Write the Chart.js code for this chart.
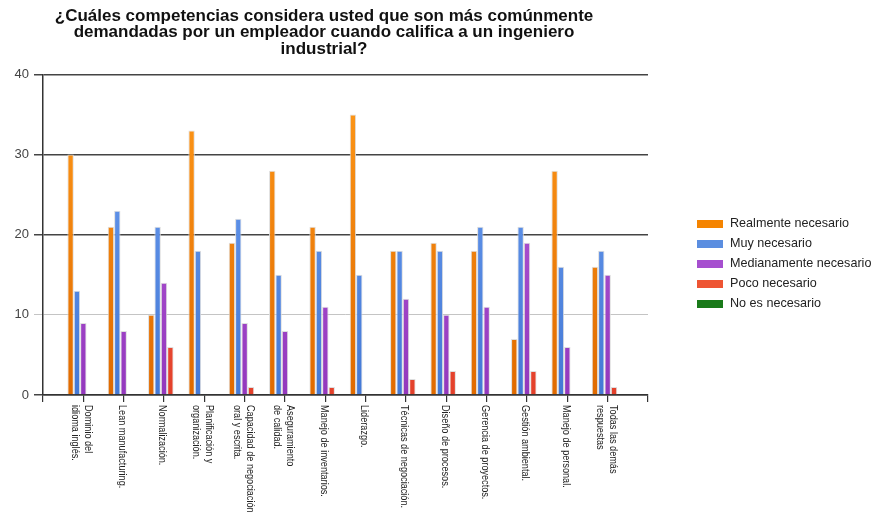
<!DOCTYPE html>
<html>
<head>
<meta charset="utf-8">
<script src="https://cdn.jsdelivr.net/npm/chart.js@4"></script>
<style>
  html, body { margin: 0; padding: 0; background: #fff; }
  #wrap { width: 880px; height: 523px; }
</style>
</head>
<body>
<div id="wrap"><canvas id="chart" width="880" height="523"></canvas></div>
<script>
// categories, one entry per line of the label
const categories = [
    ["Dominio del", "idioma inglés."],
    ["Lean manufacturing."],
    ["Normalización."],
    ["Planificación y", "organización."],
    ["Capacidad de negociación", "oral y escrita."],
    ["Aseguramiento", "de calidad."],
    ["Manejo de inventarios."],
    ["Liderazgo."],
    ["Técnicas de negociación."],
    ["Diseño de procesos."],
    ["Gerencia de proyectos."],
    ["Gestión ambiental."],
    ["Manejo de personal."],
    ["Todas las demás", "respuestas"]
]

const seriesNames = ["Realmente necesario", "Muy necesario", "Medianamente necesario", "Poco necesario", "No es necesario"]

const realmente = [30, 21, 10, 33, 19, 28, 21, 35, 18, 19, 18, 7, 28, 16]
const muy       = [13, 23, 21, 18, 22, 15, 18, 15, 18, 18, 21, 21, 16, 18]
const mediana   = [9, 8, 14, 0, 9, 8, 11, 0, 12, 10, 11, 19, 6, 15]
const poco      = [0, 0, 6, 0, 1, 0, 1, 0, 2, 3, 0, 3, 0, 1]
const noEs      = [0, 0, 0, 0, 0, 0, 0, 0, 0, 0, 0, 0, 0, 0]

const yTicks = [0, 10, 20, 30, 40]

const titleLines = [
    "¿Cuáles competencias considera usted que son más comúnmente",
    "demandadas por un empleador cuando califica a un ingeniero",
    "industrial?"
]

// legend colour, gradient top, gradient bottom
const palette = [
    ["#f58400", "#ff9a1a", "#e06a00"],
    ["#5b8ee0", "#6fa0f2", "#4479d6"],
    ["#a64fcf", "#bb62dc", "#9338bd"],
    ["#ee5533", "#f76d50", "#e3402a"],
    ["#1a7a1a", "#239023", "#136613"]
]

const allSeries = [realmente, muy, mediana, poco, noEs]

// one empty slot on each end, like the original axis
const labels = [""].concat(categories.map(c => c.join(" ")), [""])

function barFill(i) {
    return function (ctx) {
        const area = ctx.chart.chartArea
        if (!area) return palette[i][0]
        const g = ctx.chart.ctx.createLinearGradient(0, area.top, 0, area.bottom)
        g.addColorStop(0, palette[i][1])
        g.addColorStop(1, palette[i][2])
        return g
    }
}

const datasets = allSeries.map((values, i) => ({
    label: seriesNames[i],
    data: [null].concat(values, [null]),
    backgroundColor: barFill(i),
    borderColor: "#dedede",
    borderWidth: ctx => ctx.raw ? 1 : 0,
    borderSkipped: "bottom",
    categoryPercentage: 0.79,
    barPercentage: 1
}))

// category names drawn turned clockwise, reading downwards
const xLabelsPlugin = {
    id: "xLabels",
    afterDraw(chart) {
        const ctx = chart.ctx
        const xs = chart.scales.x
        const top = xs.top + 10
        ctx.save()
        ctx.fillStyle = "#222"
        ctx.font = '11px "Liberation Sans", Arial, sans-serif'
        ctx.textAlign = "left"
        ctx.textBaseline = "middle"
        categories.forEach((lines, k) => {
            const x = xs.getPixelForTick(k + 1) - 1.5
            ctx.save()
            ctx.translate(x, top)
            ctx.rotate(Math.PI / 2)
            // squeeze along the text, the original uses a narrow face
            ctx.scale(0.83, 1)
            lines.forEach((line, j) => {
                ctx.fillText(line, 0, (j - (lines.length - 1) / 2) * 13)
            })
            ctx.restore()
        })
        ctx.restore()
    }
}

const legendPlugin = {
    id: "sideLegend",
    afterDraw(chart) {
        const ctx = chart.ctx
        ctx.save()
        ctx.font = '12.6px "Liberation Sans", Arial, sans-serif'
        ctx.textBaseline = "middle"
        ctx.textAlign = "left"
        seriesNames.forEach((name, i) => {
            const y = 224 + i * 20
            ctx.fillStyle = palette[i][0]
            ctx.fillRect(697, y - 4, 26, 8)
            ctx.fillStyle = "#222"
            ctx.fillText(name, 730, y)
        })
        ctx.restore()
    }
}

const chart = new Chart("chart", {
    type: "bar",
    data: { labels: labels, datasets: datasets },
    plugins: [xLabelsPlugin, legendPlugin],
    options: {
        responsive: false,
        animation: false,
        layout: { padding: { left: 0, right: 232, top: 0, bottom: 0 } },
        plugins: {
            legend: { display: false },
            tooltip: { enabled: false },
            title: {
                display: true,
                text: titleLines,
                color: "#111",
                font: { family: '"Liberation Sans", Arial, sans-serif', size: 17, weight: "bold", lineHeight: 0.97 },
                padding: { top: 8, bottom: 17 }
            }
        },
        scales: {
            x: {
                offset: false,
                grid: {
                    offset: false,
                    drawOnChartArea: false,
                    drawTicks: true,
                    tickLength: 7,
                    color: "#333",
                    lineWidth: 1.2
                },
                border: { display: true, color: "#333", width: 1.5 },
                ticks: { display: false },
                afterFit: s => { s.height = 128 }
            },
            y: {
                min: 0,
                max: 40,
                afterBuildTicks: s => { s.ticks = yTicks.map(v => ({ value: v })) },
                grid: {
                    color: ctx => ctx.tick && ctx.tick.value === 10 ? "#c4c4c4" : "#444",
                    lineWidth: ctx => ctx.tick && ctx.tick.value === 10 ? 1 : 1.5,
                    tickLength: 9
                },
                border: { display: true, color: "#333", width: 1.5 },
                ticks: {
                    color: "#444",
                    padding: 5,
                    font: { family: '"Liberation Sans", Arial, sans-serif', size: 13 }
                },
                afterFit: s => { s.width = 43 }
            }
        }
    }
})
</script>
</body>
</html>
